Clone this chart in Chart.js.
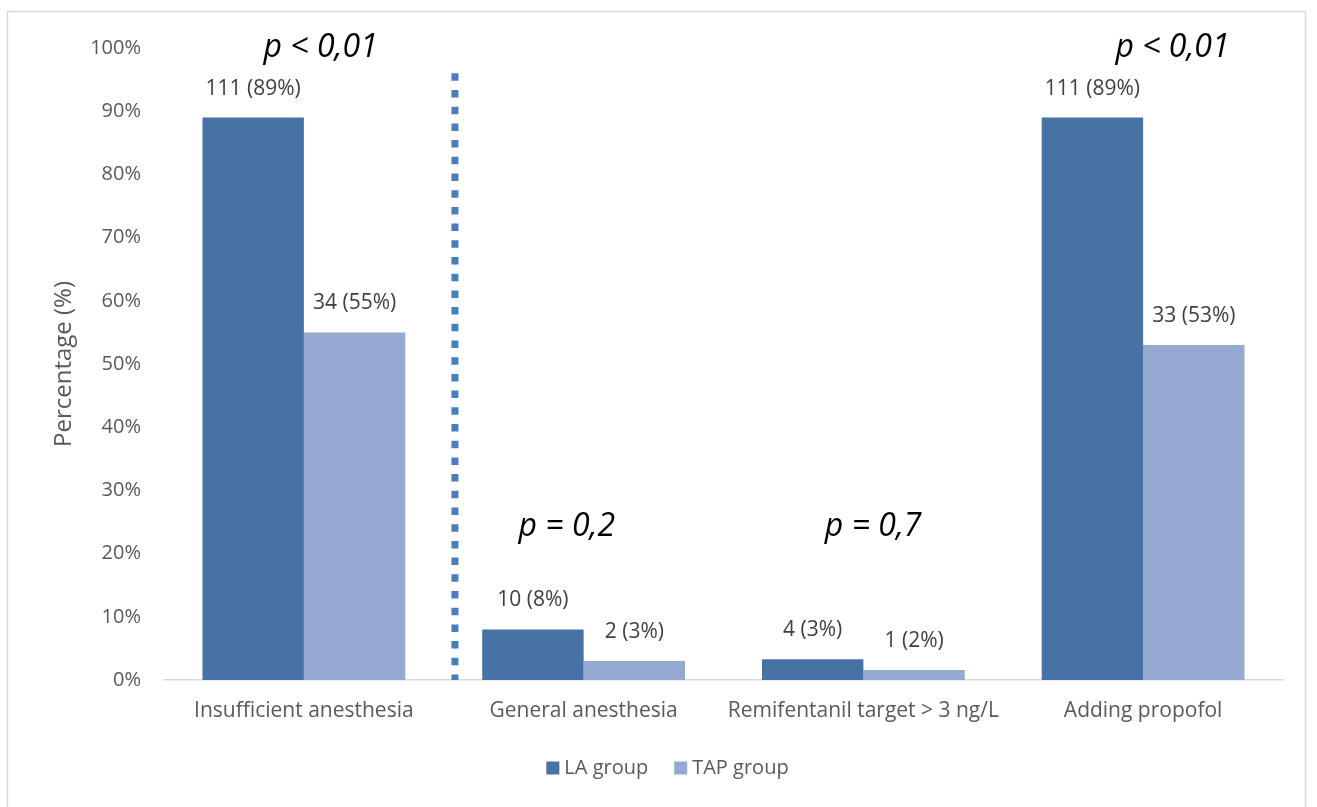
<!DOCTYPE html>
<html>
<head>
<meta charset="utf-8">
<script src="https://cdn.jsdelivr.net/npm/chart.js@4.4.1/dist/chart.umd.min.js"></script>
<style>
  html, body { margin: 0; padding: 0; background: #ffffff; }
  #wrap { width: 1317px; height: 807px; position: relative; }
</style>
</head>
<body>
<div id="wrap"><canvas id="chart" width="1317" height="807"></canvas></div>
<script>
// Outcome categories
const categories = ['Insufficient anesthesia', 'General anesthesia', 'Remifentanil target > 3 ng/L', 'Adding propofol'];

// Percentages per group
const laPercent  = [89, 8, 3.3, 89];
const tapPercent = [55, 3, 1.6, 53];

// Patient counts per group
const laCount  = [111, 10, 4, 111];
const tapCount = [34, 2, 1, 33];

// Y axis ticks (percent)
const yTicks = [0, 10, 20, 30, 40, 50, 60, 70, 80, 90, 100];

// p-values shown over each comparison
const pLabels = ['p < 0,01', 'p = 0,2', 'p = 0,7', 'p < 0,01'];
const pLabelLevel = [100, 24.2, 24.2, 100];
const pLabelShift = [0.06, -0.06, 0.035, 0.105];

// Separator between the first comparison and the rest (category units / percent)
const dividerAt = 0.54;
const dividerTop = 96;

const FONT = "'Open Sans', 'DejaVu Sans', sans-serif";
const LA_COLOR = '#4672A6';
const TAP_COLOR = '#95AAD2';

const frame = {
  id: 'frame',
  beforeDraw(chart) {
    const ctx = chart.ctx;
    ctx.save();
    ctx.fillStyle = '#ffffff';
    ctx.fillRect(0, 0, chart.width, chart.height);
    ctx.strokeStyle = '#d9d9d9';
    ctx.lineWidth = 1.5;
    ctx.strokeRect(7.5, 11.5, 1298, 830);
    ctx.restore();
  }
};

const divider = {
  id: 'divider',
  afterDatasetsDraw(chart) {
    const {ctx, scales: {x, y}} = chart;
    const px = x.getPixelForValue(dividerAt);
    ctx.save();
    ctx.strokeStyle = '#4A7EBB';
    ctx.lineWidth = 7;
    ctx.setLineDash([7.5, 9.2]);
    ctx.beginPath();
    ctx.moveTo(px, y.getPixelForValue(dividerTop));
    ctx.lineTo(px, y.getPixelForValue(0));
    ctx.stroke();
    ctx.restore();
  }
};

const barLabels = {
  id: 'barLabels',
  afterDatasetsDraw(chart) {
    const ctx = chart.ctx;
    const counts = [laCount, tapCount];
    ctx.save();
    ctx.font = '21px ' + FONT;
    ctx.fillStyle = '#404040';
    ctx.textAlign = 'center';
    ctx.textBaseline = 'middle';
    chart.data.datasets.forEach((ds, di) => {
      chart.getDatasetMeta(di).data.forEach((bar, i) => {
        const txt = counts[di][i] + ' (' + Math.round(ds.data[i]) + '%)';
        ctx.fillText(txt, bar.x, bar.y - 29);
      });
    });
    ctx.restore();
  }
};

const pValues = {
  id: 'pValues',
  afterDatasetsDraw(chart) {
    const {ctx, scales: {x, y}} = chart;
    ctx.save();
    ctx.font = 'italic 32px ' + FONT;
    ctx.fillStyle = '#000000';
    ctx.textAlign = 'center';
    ctx.textBaseline = 'middle';
    pLabels.forEach((t, i) => {
      ctx.fillText(t, x.getPixelForValue(i + pLabelShift[i]), y.getPixelForValue(pLabelLevel[i]));
    });
    ctx.restore();
  }
};

const legendBelow = {
  id: 'legendBelow',
  afterDraw(chart) {
    const ctx = chart.ctx;
    ctx.save();
    ctx.font = '20px ' + FONT;
    ctx.textBaseline = 'middle';
    const box = 13, gap = 5, itemGap = 26;
    const items = chart.data.datasets.map(ds => ({ text: ds.label, color: ds.backgroundColor, w: ctx.measureText(ds.label).width }));
    const total = items.reduce((s, it) => s + box + gap + it.w, 0) + itemGap * (items.length - 1);
    let cx = chart.width / 2 + 9 - total / 2;
    const cy = 768;
    items.forEach(it => {
      ctx.fillStyle = it.color;
      ctx.fillRect(cx, cy - box / 2, box, box);
      cx += box + gap;
      ctx.fillStyle = '#595959';
      ctx.textAlign = 'left';
      ctx.fillText(it.text, cx, cy);
      cx += it.w + itemGap;
    });
    ctx.restore();
  }
};

new Chart(document.getElementById('chart'), {
  type: 'bar',
  data: {
    labels: categories,
    datasets: [
      { label: 'LA group', data: laPercent, backgroundColor: LA_COLOR, categoryPercentage: 0.725, barPercentage: 1.0 },
      { label: 'TAP group', data: tapPercent, backgroundColor: TAP_COLOR, categoryPercentage: 0.725, barPercentage: 1.0 }
    ]
  },
  options: {
    responsive: false,
    animation: false,
    devicePixelRatio: 1,
    layout: { padding: { left: 0, right: 34, top: 48, bottom: 0 } },
    plugins: {
      legend: { display: false },
      tooltip: { enabled: false }
    },
    scales: {
      x: {
        grid: { display: false, drawTicks: false },
        border: { display: true, color: '#d9d9d9', width: 1.5 },
        ticks: { font: { family: FONT, size: 21 }, color: '#595959', padding: 18, maxRotation: 0, autoSkip: false },
        afterFit(scale) { scale.height = 127; }
      },
      y: {
        min: 0,
        max: 100,
        afterBuildTicks(scale) { scale.ticks = yTicks.map(v => ({ value: v })); },
        grid: { display: false, drawTicks: false },
        border: { display: false },
        ticks: { font: { family: FONT, size: 20 }, color: '#595959', padding: 23, callback: v => v + '%' },
        title: { display: true, text: 'Percentage (%)', font: { family: FONT, size: 24 }, color: '#595959', padding: { top: 50, bottom: 0 } },
        afterFit(scale) { scale.width = 164; }
      }
    }
  },
  plugins: [frame, divider, barLabels, pValues, legendBelow]
});
</script>
</body>
</html>
